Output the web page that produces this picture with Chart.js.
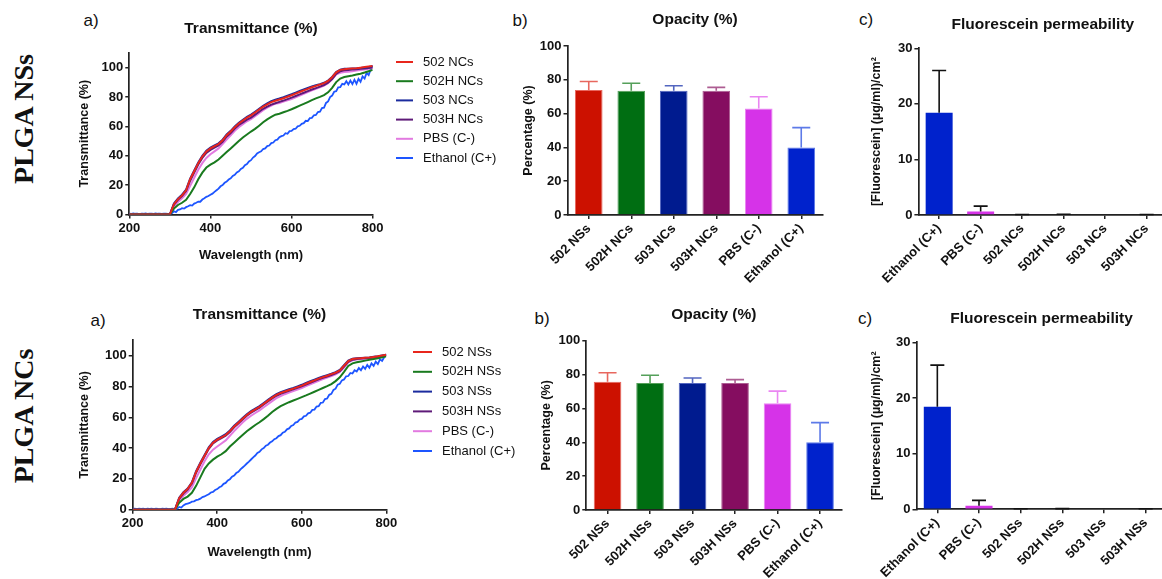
<!DOCTYPE html>
<html>
<head>
<meta charset="utf-8">
<title>PLGA NSs / NCs</title>
<script src="https://cdn.jsdelivr.net/npm/chart.js@4.4.1/dist/chart.umd.min.js"></script>
<style>
  html, body { margin: 0; padding: 0; background: #fff; }
  body { width: 1162px; height: 579px; overflow: hidden; position: relative; font-family: "Liberation Sans", Arial, sans-serif; color: #111; }
  canvas { position: absolute; }
  .tag { position: absolute; font-size: 17px; transform: translate(-50%, -50%); white-space: nowrap; }
  .row { position: absolute; font: bold 28px "Liberation Serif", "Times New Roman", serif; transform: translate(-50%, -50%) rotate(-90deg); white-space: nowrap; }
</style>
</head>
<body>
<div class="row" style="left:24px; top:119px">PLGA NSs</div>
<div class="row" style="left:24px; top:416px">PLGA NCs</div>
<div class="tag" style="left:91px; top:21px">a)</div>
<div class="tag" style="left:520px; top:21px">b)</div>
<div class="tag" style="left:866px; top:20px">c)</div>
<div class="tag" style="left:98px; top:321px">a)</div>
<div class="tag" style="left:542px; top:319px">b)</div>
<div class="tag" style="left:865px; top:319px">c)</div>

<canvas id="transTop"></canvas>
<canvas id="opacTop"></canvas>
<canvas id="fluoTop"></canvas>
<canvas id="transBot"></canvas>
<canvas id="opacBot"></canvas>
<canvas id="fluoBot"></canvas>

<script>
// ---- transmittance spectra (wavelength in nm, transmittance in %) ----
const wavelengths = [200,210,220,230,240,250,260,270,280,290,300,310,320,330,340,350,360,370,380,390,
  400,410,420,430,440,450,460,470,480,490,500,510,520,530,540,550,560,570,580,590,
  600,610,620,630,640,650,660,670,680,690,700,710,720,730,740,750,760,770,780,790,800];
// ethanol trace is noisier, so it is sampled every 5 nm
const wavelengthsFine = [200,205,210,215,220,225,230,235,240,245,250,255,260,265,270,275,280,285,290,295,
  300,305,310,315,320,325,330,335,340,345,350,355,360,365,370,375,380,385,390,395,
  400,405,410,415,420,425,430,435,440,445,450,455,460,465,470,475,480,485,490,495,
  500,505,510,515,520,525,530,535,540,545,550,555,560,565,570,575,580,585,590,595,
  600,605,610,615,620,625,630,635,640,645,650,655,660,665,670,675,680,685,690,695,
  700,705,710,715,720,725,730,735,740,745,750,755,760,765,770,775,780,785,790,795,800];

// PLGA NSs row (legend reads NCs)
const tNc502 = [0,0,0,0,0,0,0,0,0,0,
  0,7,10.5,13,16.5,24,29.5,35,39.5,43,
  45,46.5,48,50.5,54,56.5,59.5,62,64,66,
  67.5,69.5,71.5,73.5,75,76.5,77.5,78.3,79.2,80.2,
  81.2,82.3,83.4,84.5,85.6,86.7,87.6,88.5,89.5,91,
  93.5,96.8,98.5,99,99.2,99.4,99.6,100,100.4,100.8,
  101.2];
const tNc502H = [0,0,0,0,0,0,0,0,0,0,
  0,4,6.5,8,10,14,18.5,24,28.5,32,
  34,35.5,37.5,40,42.5,45,47.5,50,52.5,54.5,
  56.5,58.3,60.5,62.8,64.8,66.5,68,68.6,69.6,70.6,
  71.7,72.9,74.1,75.3,76.6,77.9,79.1,80.1,81.3,83.2,
  86.2,90.2,92.6,93.6,94.2,94.7,95.3,95.9,96.7,97.6,
  98.5];
const tNc503 = [0,0,0,0,0,0,0,0,0,0,
  0,7.5,11,13.5,17,24.5,30,35.5,40,43.5,
  45.5,47,48.5,51,54.5,57,60,62.5,64.5,66.5,
  68,70,72,74,75.7,77.2,78.2,79,79.9,80.9,
  81.9,83,84.1,85.2,86.2,87.2,88,88.8,89.7,91.2,
  93.7,97,98.7,99.2,99.3,99.4,99.5,99.8,100.1,100.5,
  100.9];
const tNc503H = [0,0,0,0,0,0,0,0,0,0,
  0,6.8,10,12.5,16,23,28.5,34,38.5,42,
  44,45.5,47,49.5,53,55.5,58.5,61,62.8,64.6,
  66,68,70,72,73.5,74.8,75.8,76.7,77.6,78.6,
  79.6,80.7,81.8,82.9,84,85.1,86.1,87.1,88.2,89.8,
  92.3,95.8,97.6,98.2,98.5,98.7,98.9,99.2,99.5,99.8,
  100.2];
const tPbsTop = [0,0,0,0,0,0,0,0,0,0,
  0,5.5,8.5,11,14,19.5,25,30.5,35,38.5,
  41,43,45,48,51,54,57,59.5,61.5,63.5,
  65,67,69,71,72.8,74.2,75.5,76,77,77.8,
  78.7,79.8,81,82.2,83.3,84.5,85.6,86.7,87.8,89.4,
  92,95.5,96.5,97,97.3,97.6,98,98.4,98.8,99.3,
  99.8];
const tEthTop = [0.6,0.4,0.7,0.5,0.6,0.3,0.6,0.5,0.7,0.4,0.5,0.6,0.4,0.7,0.5,0.6,0.4,0.6,0.5,0.4,
  0,0.8,2.2,1.6,3.2,3.4,4.3,4,5,5.6,6.4,6.1,7.4,8,8.8,8.7,10.2,11,12,12.6,
  13.5,14.2,15.4,16.5,17.6,19.2,20,21.6,22.4,23.8,24.6,26.2,27,28.6,29.4,31,31.8,33.6,34.4,36.2,
  37,38.8,39.8,41.6,42.4,43,44.6,45,46.6,47,48.6,49,50.6,51,52.6,53.4,53.8,55.4,55,56.8,
  57,58.2,58.4,60,60.4,61.8,62.2,63.8,63.6,65.6,65.8,67.6,67.8,69.8,70,72.5,72.8,76,77,80,
  81,83.6,84,86.6,86.8,89,88.6,90.8,88.6,91.2,88.8,91.8,89,92.4,90.4,94,92.6,96.4,95,98.8,
  101.5];

// PLGA NCs row (legend reads NSs)
const tNs502 = [0,0,0,0,0,0,0,0,0,0,
  0,7.5,11,13.5,17.5,24.5,30,35,40,43.5,
  45.5,47,48.5,51,54,56.5,59,61.5,63.5,65.2,
  66.8,68.8,70.8,72.8,74.5,75.8,76.8,77.7,78.6,79.6,
  80.6,81.8,82.9,84,85.1,86.1,87,88,89,90.5,
  93.5,96.5,97.8,98.2,98.4,98.6,98.8,99.2,99.6,100.1,
  100.6];
const tNs502H = [0,0,0,0,0,0,0,0,0,0,
  0,4.5,7,8.5,11,15.5,21,26.5,30,32.5,
  34.5,36,38,41,43.5,46,48.5,51,53,55,
  56.8,58.8,61,63.5,65.5,67.2,68.6,69.8,70.9,72,
  73.1,74.2,75.4,76.6,77.8,79,80.2,81.6,83.5,86,
  89.5,93.3,95,95.8,96.3,96.8,97.3,97.8,98.4,99,
  99.6];
const tNs503 = [0,0,0,0,0,0,0,0,0,0,
  0,7.8,11.3,13.8,17.8,25,30.5,35.5,40.5,44,
  46,47.5,49,51.5,54.5,57,59.5,62,64,65.7,
  67.3,69.3,71.3,73.3,75,76.3,77.3,78.2,79.1,80.1,
  81.1,82.3,83.4,84.5,85.5,86.5,87.4,88.3,89.3,90.8,
  93.8,96.8,98,98.3,98.5,98.7,98.9,99.3,99.7,100.2,
  100.7];
const tNs503H = [0,0,0,0,0,0,0,0,0,0,
  0,7,10.5,13,17,24,29.5,34.5,39.5,43,
  45,46.5,48,50.5,53.5,56,58.5,61,63,64.7,
  66.3,68.3,70.3,72.3,74,75.3,76.3,77.2,78.1,79.1,
  80.1,81.3,82.4,83.5,84.6,85.6,86.5,87.5,88.5,90,
  93,96,97.4,97.9,98.1,98.3,98.5,98.9,99.3,99.8,
  100.3];
const tPbsBot = [0,0,0,0,0,0,0,0,0,0,
  0,6,9,11.5,14.5,20.5,26,31.5,36,39,
  41,43,45,48,51,53.8,56.6,59,61,62.8,
  64.5,66.5,68.5,70.5,72.4,73.8,75,76,77,78,
  79,80.2,81.4,82.6,83.7,84.8,85.8,86.8,87.9,89.4,
  92.3,95.6,97,97.5,97.8,98,98.3,98.6,99,99.4,
  99.8];
const tEthBot = [0.5,0.7,0.4,0.6,0.5,0.7,0.4,0.6,0.5,0.6,0.4,0.7,0.5,0.4,0.6,0.5,0.7,0.4,0.5,0.6,
  0,0.6,1.8,1.4,2.8,3.6,4,4.4,5.2,5.4,6.2,6.6,7.2,8.2,8.6,9.4,10,11.2,11.6,12.8,
  13.4,14.6,15.2,16.8,17.4,19,19.8,21.4,22.2,23.8,24.6,26.2,27.4,28.6,30,31.2,32.6,34,35.2,36.8,
  37.6,39.2,40,41.6,42.2,43.6,44.4,45.8,46.4,47.8,48.4,50,50.6,52.2,52.8,54.4,55,56.6,57,58.6,
  59,60.6,61,62.6,63,64.8,65,67,67.2,69.4,69.6,71.8,72.2,74.6,75.2,77.8,78.6,81.2,81.8,84,
  84.6,86.6,86.8,88.8,88.4,90.6,89.8,92,90.6,93,91.4,94,92.2,95,93.4,96.2,94.6,97.6,96.6,99,
  101];

// ---- opacity (%), mean and upper SD ----
const opacLabelsTop = ['502 NSs', '502H NCs', '503 NCs', '503H NCs', 'PBS (C-)', 'Ethanol (C+)'];
const opacTopVals = [74, 73.5, 73.5, 73.5, 63, 40];
const opacTopErr = [5, 4.5, 3, 2, 7, 11.7];
const opacLabelsBot = ['502 NSs', '502H NSs', '503 NSs', '503H NSs', 'PBS (C-)', 'Ethanol (C+)'];
const opacBotVals = [75.7, 75, 75, 75, 63, 40];
const opacBotErr = [5.4, 4.6, 3, 2, 7.2, 11.6];

// ---- fluorescein permeability, (µg/ml)/cm² ----
const fluoLabelsTop = ['Ethanol (C+)', 'PBS (C-)', '502 NCs', '502H NCs', '503 NCs', '503H NCs'];
const fluoTopVals = [18.4, 0.65, 0.05, 0.08, 0, 0.05];
const fluoTopErr = [7.6, 0.95, 0.05, 0.05, null, 0.05];
const fluoLabelsBot = ['Ethanol (C+)', 'PBS (C-)', '502 NSs', '502H NSs', '503 NSs', '503H NSs'];
const fluoBotVals = [18.4, 0.65, 0.05, 0.08, 0, 0.05];
const fluoBotErr = [7.5, 0.95, 0.05, 0.05, null, 0.05];

// ---- styling ----
const lineColors = ['#e8261c', '#197a1e', '#1b2b9e', '#5e1a78', '#e27ae0', '#1d55ff'];
const barFill = ['#cc1100', '#006e12', '#001b8f', '#850d60', '#d633e8', '#0022cc'];
const barEdge = ['#e8675e', '#55a05a', '#5366c0', '#ad5d92', '#ea86f2', '#5d7ae8'];
const fluoFill = ['#0022cc', '#d633e8', '#222', '#222', '#222', '#222'];

Chart.defaults.font.family = '"Liberation Sans", Arial, Helvetica, sans-serif';
Chart.defaults.color = '#111';
Chart.defaults.animation = false;

const tickFont = { size: 13, weight: 'bold' };
const axisGrid = { display: true, drawOnChartArea: false, drawTicks: true, tickLength: 4, color: '#222', lineWidth: 1.5 };
const axisBorder = { display: true, color: '#222', width: 1.7 };

// legend with short line samples, drawn at a fixed spot to the right of the plot
const lineLegend = {
  id: 'lineLegend',
  afterDraw(chart, args, opts) {
    if (!opts || opts.x == null) return;
    const ctx = chart.ctx;
    ctx.save();
    ctx.font = '13px "Liberation Sans", Arial, sans-serif';
    ctx.textBaseline = 'middle';
    chart.data.datasets.forEach((ds, i) => {
      const y = opts.y + i * opts.step;
      ctx.strokeStyle = ds.borderColor;
      ctx.lineWidth = 2;
      ctx.beginPath();
      ctx.moveTo(opts.x, y);
      ctx.lineTo(opts.x + opts.len, y);
      ctx.stroke();
      ctx.fillStyle = '#111';
      ctx.fillText(ds.label, opts.x + opts.len + opts.gap, y);
    });
    ctx.restore();
  }
};

// upper-only SD whiskers on bars
const errorBars = {
  id: 'errorBars',
  afterDatasetsDraw(chart) {
    const ctx = chart.ctx;
    const yScale = chart.scales.y;
    chart.data.datasets.forEach((ds, di) => {
      if (!ds.errors) return;
      const meta = chart.getDatasetMeta(di);
      meta.data.forEach((bar, i) => {
        const err = ds.errors[i];
        if (err == null) return;
        const v = ds.data[i];
        const yTop = yScale.getPixelForValue(v + err);
        const yBase = yScale.getPixelForValue(v);
        const half = ds.capHalf || 9;
        ctx.save();
        ctx.strokeStyle = Array.isArray(ds.errorColor) ? ds.errorColor[i] : ds.errorColor;
        ctx.lineWidth = 1.6;
        ctx.beginPath();
        ctx.moveTo(bar.x, yBase);
        ctx.lineTo(bar.x, yTop);
        ctx.moveTo(bar.x - half, yTop);
        ctx.lineTo(bar.x + half, yTop);
        ctx.stroke();
        ctx.restore();
      });
    });
  }
};

function place(id, box) {
  const c = document.getElementById(id);
  c.width = box.w; c.height = box.h;
  c.style.left = box.x + 'px'; c.style.top = box.y + 'px';
  c.style.width = box.w + 'px'; c.style.height = box.h + 'px';
  return c;
}

// box = canvas rect on the page, area = wanted plot rect on the page
function panelLayout(box, area, titleY, titleSize) {
  const lh = titleSize * 1.2;
  return {
    padding: { left: 0, top: 0, bottom: 0, right: box.x + box.w - area.right },
    yWidth: area.left - box.x,
    xHeight: box.y + box.h - area.bottom,
    titlePad: { top: titleY - box.y - lh / 2, bottom: area.top - titleY - lh / 2 }
  };
}

function makeSpectrum(id, box, area, o) {
  const L = panelLayout(box, area, o.titleY, 15.5);
  const series = o.series.map((s, i) => ({
    label: s.label,
    data: s.y.map((v, k) => ({ x: s.x[k], y: v })),
    borderColor: lineColors[i],
    borderWidth: i === 5 ? 1.8 : 2,
    pointRadius: 0,
    fill: false,
    tension: 0
  }));
  return new Chart(place(id, box), {
    type: 'line',
    data: { datasets: series },
    options: {
      responsive: false,
      layout: { padding: L.padding },
      plugins: {
        legend: { display: false },
        tooltip: { enabled: false },
        title: { display: true, text: 'Transmittance (%)', fullSize: false, font: { size: 15.5, weight: 'bold' }, padding: L.titlePad, color: '#111' },
        lineLegend: o.legend
      },
      scales: {
        x: {
          type: 'linear', min: 200, max: 800,
          ticks: { stepSize: 200, font: tickFont, padding: 2, includeBounds: false },
          grid: axisGrid, border: axisBorder,
          title: { display: true, text: 'Wavelength (nm)', font: { size: 13, weight: 'bold' }, padding: { top: 0, bottom: o.xTitlePad } },
          afterFit: s => { s.height = L.xHeight; }
        },
        y: {
          min: 0, max: 110,
          ticks: { stepSize: 20, font: tickFont, padding: 2, includeBounds: false },
          grid: axisGrid, border: axisBorder,
          title: { display: true, text: 'Transmittance (%)', font: { size: 12.5, weight: 'bold' }, padding: { top: o.yTitlePad, bottom: 0 } },
          afterFit: s => { s.width = L.yWidth; }
        }
      }
    },
    plugins: [lineLegend]
  });
}

function makeBars(id, box, area, o) {
  const L = panelLayout(box, area, o.titleY, 15.5);
  return new Chart(place(id, box), {
    type: 'bar',
    data: {
      labels: o.labels,
      datasets: [{
        data: o.values,
        errors: o.errors,
        errorColor: o.errorColor,
        capHalf: o.capHalf,
        backgroundColor: o.fill,
        borderColor: o.edge,
        borderWidth: o.edge ? 1 : 0,
        barPercentage: 0.65,
        categoryPercentage: 1
      }]
    },
    options: {
      responsive: false,
      layout: { padding: L.padding },
      plugins: {
        legend: { display: false },
        tooltip: { enabled: false },
        title: { display: true, text: o.title, fullSize: false, font: { size: 15.5, weight: 'bold' }, padding: L.titlePad, color: '#111' }
      },
      scales: {
        x: {
          type: 'category', offset: true,
          ticks: { font: tickFont, minRotation: 45, maxRotation: 45, autoSkip: false, padding: 2 },
          grid: Object.assign({}, axisGrid, { offset: false }), border: axisBorder,
          afterFit: s => { s.height = L.xHeight; }
        },
        y: {
          min: 0, max: o.max,
          ticks: { stepSize: o.step, font: tickFont, padding: 2 },
          grid: axisGrid, border: axisBorder,
          title: { display: true, text: o.yTitle, font: { size: 12.5, weight: 'bold' }, padding: { top: o.yTitlePad, bottom: 0 } },
          afterFit: s => { s.width = L.yWidth; }
        }
      }
    },
    plugins: [errorBars]
  });
}

// ---- top row: PLGA NSs ----
makeSpectrum('transTop', { x: 60, y: 0, w: 470, h: 275 }, { left: 129.3, top: 53, right: 372.7, bottom: 214.5 }, {
  titleY: 29, yTitlePad: 17.5, xTitlePad: 12.2,
  legend: { x: 336, y: 62, step: 19.2, len: 17, gap: 10 },
  series: [
    { label: '502 NCs', x: wavelengths, y: tNc502 },
    { label: '502H NCs', x: wavelengths, y: tNc502H },
    { label: '503 NCs', x: wavelengths, y: tNc503 },
    { label: '503H NCs', x: wavelengths, y: tNc503H },
    { label: 'PBS (C-)', x: wavelengths, y: tPbsTop },
    { label: 'Ethanol (C+)', x: wavelengthsFine, y: tEthTop }
  ]
});

makeBars('opacTop', { x: 500, y: 0, w: 345, h: 290 }, { left: 567.5, top: 46, right: 822.5, bottom: 215 }, {
  titleY: 20, title: 'Opacity (%)', yTitle: 'Percentage (%)', yTitlePad: 20.8,
  labels: opacLabelsTop, values: opacTopVals, errors: opacTopErr,
  fill: barFill, edge: barEdge, errorColor: barEdge, capHalf: 9, max: 100, step: 20
});

makeBars('fluoTop', { x: 850, y: 0, w: 330, h: 290 }, { left: 918.4, top: 48.3, right: 1167.4, bottom: 215 }, {
  titleY: 25, title: 'Fluorescein permeability', yTitle: '[Fluorescein] (µg/ml)/cm²', yTitlePad: 19.2,
  labels: fluoLabelsTop, values: fluoTopVals, errors: fluoTopErr,
  fill: fluoFill, edge: null, errorColor: '#111', capHalf: 7, max: 30, step: 10
});

// ---- bottom row: PLGA NCs ----
makeSpectrum('transBot', { x: 60, y: 290, w: 470, h: 285 }, { left: 132.7, top: 340.3, right: 386.3, bottom: 509.7 }, {
  titleY: 315, yTitlePad: 17.5, xTitlePad: 14.9,
  legend: { x: 353, y: 62, step: 19.8, len: 19, gap: 10 },
  series: [
    { label: '502 NSs', x: wavelengths, y: tNs502 },
    { label: '502H NSs', x: wavelengths, y: tNs502H },
    { label: '503 NSs', x: wavelengths, y: tNs503 },
    { label: '503H NSs', x: wavelengths, y: tNs503H },
    { label: 'PBS (C-)', x: wavelengths, y: tPbsBot },
    { label: 'Ethanol (C+)', x: wavelengthsFine, y: tEthBot }
  ]
});

makeBars('opacBot', { x: 500, y: 290, w: 360, h: 289 }, { left: 586.3, top: 340.7, right: 841.3, bottom: 510 }, {
  titleY: 315, title: 'Opacity (%)', yTitle: 'Percentage (%)', yTitlePad: 39.2,
  labels: opacLabelsBot, values: opacBotVals, errors: opacBotErr,
  fill: barFill, edge: barEdge, errorColor: barEdge, capHalf: 9, max: 100, step: 20
});

makeBars('fluoBot', { x: 850, y: 290, w: 330, h: 289 }, { left: 916.5, top: 342.3, right: 1166.5, bottom: 509.3 }, {
  titleY: 318.3, title: 'Fluorescein permeability', yTitle: '[Fluorescein] (µg/ml)/cm²', yTitlePad: 19.2,
  labels: fluoLabelsBot, values: fluoBotVals, errors: fluoBotErr,
  fill: fluoFill, edge: null, errorColor: '#111', capHalf: 7, max: 30, step: 10
});
</script>
</body>
</html>
